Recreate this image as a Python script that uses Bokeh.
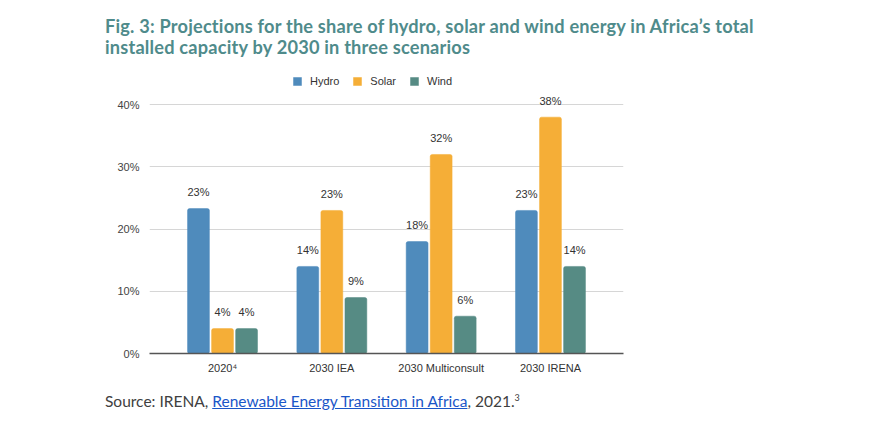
from bokeh.plotting import figure
from bokeh.models import (FactorRange, FixedTicker, PrintfTickFormatter, Legend, LegendItem,
                          Div, ColumnDataSource)
from bokeh.transform import dodge
from bokeh.layouts import column
from bokeh.core.properties import value
from bokeh.embed import file_html
from bokeh.resources import INLINE

categories = ["2020\u2074", "2030 IEA", "2030 Multiconsult", "2030 IRENA"]
hydro = [23.3, 14, 18, 23]
solar = [4, 23, 32, 38]
wind = [4, 9, 6, 14]
series_names = ["Hydro", "Solar", "Wind"]
y_ticks = [0, 10, 20, 30, 40]

colors = ["#4f8bbc", "#f5ae37", "#568b84"]
offsets = [-0.22, 0.0, 0.22]

src = ColumnDataSource(dict(
    cat=categories, Hydro=hydro, Solar=solar, Wind=wind,
    Hydro_lbl=[f"{round(v)}%" for v in hydro],
    Solar_lbl=[f"{round(v)}%" for v in solar],
    Wind_lbl=[f"{round(v)}%" for v in wind],
))

p = figure(width=858, height=328, output_backend="svg", toolbar_location=None,
           x_range=FactorRange(*categories, range_padding=0.084), y_range=(0, 45.5),
           min_border_left=149, min_border_right=235, min_border_top=10, min_border_bottom=35,
           margin=0)
p.outline_line_color = None
p.background_fill_color = "white"

renderers = []
for name, col, off in zip(series_names, colors, offsets):
    r = p.vbar(x=dodge("cat", off, range=p.x_range), top=name, width=0.2, source=src,
               fill_color=col, line_color=col, line_width=0.5, border_radius=2)
    renderers.append(r)
    p.text(x=dodge("cat", off, range=p.x_range), y=name, text=name + "_lbl", source=src,
           text_align="center", text_baseline="middle", y_offset=-16.5,
           text_font=value("Liberation Sans"), text_font_size="11px", text_color="#333333")

# axes
p.yaxis.ticker = FixedTicker(ticks=y_ticks)
p.yaxis.formatter = PrintfTickFormatter(format="%d%%")
p.yaxis.axis_line_color = None
p.yaxis.major_tick_line_color = None
p.yaxis.minor_tick_line_color = None
p.yaxis.major_label_standoff = 4
p.yaxis.major_label_text_font = "Liberation Sans"
p.yaxis.major_label_text_font_size = "11px"
p.yaxis.major_label_text_color = "#444444"

p.xaxis.axis_line_color = "#555555"
p.xaxis.axis_line_width = 1.5
p.xaxis.major_tick_line_color = None
p.xaxis.minor_tick_line_color = None
p.xaxis.major_label_standoff = 2
p.xaxis.major_label_text_font = "Liberation Sans"
p.xaxis.major_label_text_font_size = "11px"
p.xaxis.major_label_text_color = "#333333"

p.xgrid.grid_line_color = None
p.ygrid.ticker = FixedTicker(ticks=y_ticks[1:])
p.ygrid.grid_line_color = "#d6d6d6"
p.ygrid.grid_line_width = 1

legend = Legend(items=[LegendItem(label=n, renderers=[r]) for n, r in zip(series_names, renderers)],
                orientation="horizontal", location=(143, 266), glyph_width=10, glyph_height=10,
                label_height=10, padding=0, margin=0, spacing=13, label_standoff=8,
                label_text_font="Liberation Sans", label_text_font_size="11px",
                label_text_color="#333333", border_line_alpha=0, background_fill_alpha=0)
p.add_layout(legend)

title = Div(text="Fig. 3: Projections for the share of hydro, solar and wind energy in Africa\u2019s total<br>"
                 "installed capacity by 2030 in three scenarios",
            width=858, height=60, margin=0,
            styles={"font-family": "Lato", "font-weight": "bold", "font-size": "18.2px",
                    "letter-spacing": "0.2px",
                    "color": "#4f8b8b", "padding-left": "105px", "padding-top": "16px",
                    "line-height": "21px"})

div = Div(text='Source: IRENA, <a href="#" style="color:#1a56c8;text-decoration:underline;">'
               'Renewable Energy Transition in Africa</a>, 2021.<sup style="font-size:9px;">3</sup>',
          width=858, height=26, margin=0,
          styles={"font-family": "Lato", "font-size": "15.5px", "color": "#404040",
                  "padding-left": "105px", "padding-top": "1px", "line-height": "18px"})

layout = column(title, p, div, spacing=0)
open("out.html", "w").write(file_html(layout, INLINE))
